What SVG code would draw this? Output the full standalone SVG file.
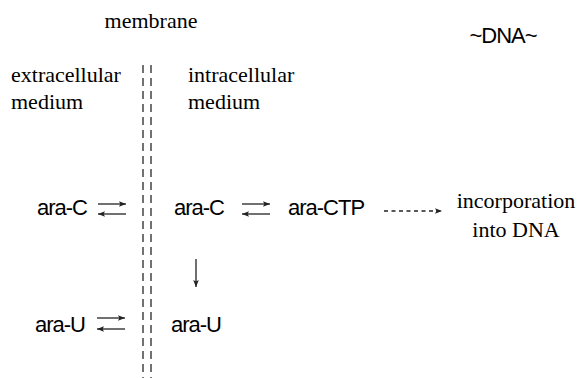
<svg xmlns="http://www.w3.org/2000/svg" width="579" height="378" viewBox="0 0 579 378">
<style>
.serif{font-family:"Liberation Serif","Times New Roman",serif;font-size:22px;fill:#000}
.sans{font-family:"Liberation Sans",Arial,sans-serif;font-size:22px;fill:#000;letter-spacing:-1px}
.ln{stroke:#222;stroke-width:1.3;fill:none}
.mem{stroke:#444;stroke-width:1.5;stroke-dasharray:8 5;fill:none}
</style>
<defs>
<marker id="ah" viewBox="0 0 10 10" refX="10" refY="5" markerWidth="8" markerHeight="7" markerUnits="userSpaceOnUse" orient="auto">
<path d="M0,1 L10,5 L0,9 L2,5 Z" fill="#222"/>
</marker>
</defs>
<g id="membrane">
<line class="mem" x1="143" y1="65" x2="143" y2="378"/>
<line class="mem" x1="151" y1="65" x2="151" y2="378"/>
<text class="serif" x="151" y="28" text-anchor="middle">membrane</text>
</g>
<g id="dna-label"><text class="sans" x="503" y="43" text-anchor="middle">~DNA~</text></g>
<g id="extra-label">
<text class="serif" x="11" y="82">extracellular</text>
<text class="serif" x="11" y="109">medium</text>
</g>
<g id="intra-label">
<text class="serif" x="188" y="82">intracellular</text>
<text class="serif" x="188" y="109">medium</text>
</g>
<g id="araC-out"><text class="sans" x="37" y="215">ara-C</text></g>
<g id="araC-in"><text class="sans" x="174" y="215">ara-C</text></g>
<g id="araCTP"><text class="sans" x="288" y="215">ara-CTP</text></g>
<g id="incorp">
<text class="serif" x="516" y="208" text-anchor="middle">incorporation</text>
<text class="serif" x="516" y="237" text-anchor="middle">into DNA</text>
</g>
<g id="araU-out"><text class="sans" x="35" y="332">ara-U</text></g>
<g id="araU-in"><text class="sans" x="171" y="332">ara-U</text></g>
<g id="connectors">
<line class="ln" x1="98" y1="204" x2="126" y2="204" marker-end="url(#ah)"/>
<line class="ln" x1="126" y1="214" x2="98" y2="214" marker-end="url(#ah)"/>
<line class="ln" x1="242" y1="204" x2="270" y2="204" marker-end="url(#ah)"/>
<line class="ln" x1="270" y1="214" x2="242" y2="214" marker-end="url(#ah)"/>
<line class="ln" x1="97" y1="318" x2="125" y2="318" marker-end="url(#ah)"/>
<line class="ln" x1="125" y1="329" x2="97" y2="329" marker-end="url(#ah)"/>
<line class="ln" x1="196" y1="259" x2="196" y2="287" marker-end="url(#ah)"/>
<line class="ln" x1="384" y1="211" x2="442" y2="211" stroke-dasharray="4 3.5" marker-end="url(#ah)"/>
</g>
</svg>
